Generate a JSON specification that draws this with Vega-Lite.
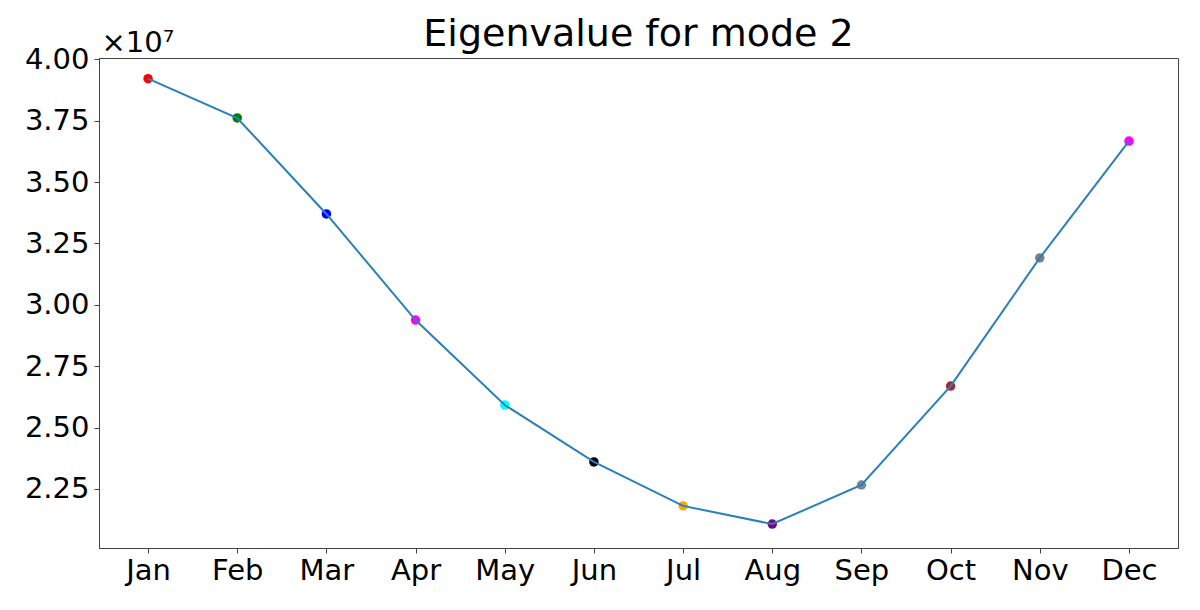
{
  "$schema": "https://vega.github.io/schema/vega-lite/v6.json",
  "autosize": {"type": "none"},
  "padding": {"left": 99, "top": 58, "right": 22, "bottom": 62},
  "width": 1079,
  "height": 490,
  "background": "white",
  "title": {
    "text": "Eigenvalue for mode 2",
    "font": "DejaVu Sans",
    "fontSize": 38,
    "fontWeight": "normal",
    "color": "black",
    "baseline": "alphabetic",
    "offset": -56,
    "anchor": "middle"
  },
  "data": {
    "values": [
      {"month": "Jan", "value": 39210000},
      {"month": "Feb", "value": 37610000},
      {"month": "Mar", "value": 33700000},
      {"month": "Apr", "value": 29380000},
      {"month": "May", "value": 25920000},
      {"month": "Jun", "value": 23600000},
      {"month": "Jul", "value": 21810000},
      {"month": "Aug", "value": 21070000},
      {"month": "Sep", "value": 22660000},
      {"month": "Oct", "value": 26690000},
      {"month": "Nov", "value": 31910000},
      {"month": "Dec", "value": 36670000}
    ]
  },
  "encoding": {
    "x": {
      "field": "month",
      "type": "ordinal",
      "sort": null,
      "scale": {"type": "point", "padding": 0.55},
      "axis": {"title": null, "labelAngle": 0, "labelPadding": 3, "labelFontSize": 29}
    },
    "y": {
      "field": "value",
      "type": "quantitative",
      "scale": {"domain": [20094000, 40053000], "nice": false, "zero": false},
      "axis": {
        "values": [22500000, 25000000, 27500000, 30000000, 32500000, 35000000, 37500000, 40000000],
        "labelExpr": "format(datum.value / 10000000, '.2f')",
        "labelFontSize": 29,
        "title": "×10⁷",
        "titleAngle": 0,
        "titleX": 2,
        "titleY": -7,
        "titleAlign": "left",
        "titleBaseline": "alphabetic",
        "titleFontWeight": "normal",
        "titleFontSize": 29,
        "grid": false,
        "labelPadding": 5
      }
    }
  },
  "layer": [
    {
      "mark": {"type": "point", "filled": true, "size": 90, "opacity": 1},
      "encoding": {
        "color": {
          "field": "month",
          "type": "nominal",
          "sort": null,
          "scale": {
            "domain": ["Jan", "Feb", "Mar", "Apr", "May", "Jun", "Jul", "Aug", "Sep", "Oct", "Nov", "Dec"],
            "range": ["#ff0000", "#008000", "#0000ff", "#ff00ff", "#00ffff", "#000000", "#ffa500", "#800080", "#778899", "#a52a2a", "#808080", "#ff00ff"]
          },
          "legend": null
        }
      }
    },
    {
      "mark": {"type": "line", "color": "#2b7fbb", "strokeWidth": 2}
    }
  ],
  "config": {
    "font": "DejaVu Sans",
    "view": {"stroke": "#444"},
    "axis": {
      "labelFont": "DejaVu Sans",
      "titleFont": "DejaVu Sans",
      "labelColor": "black",
      "titleColor": "black",
      "domainColor": "#444",
      "tickColor": "#444",
      "tickSize": 5,
      "grid": false
    }
  }
}
